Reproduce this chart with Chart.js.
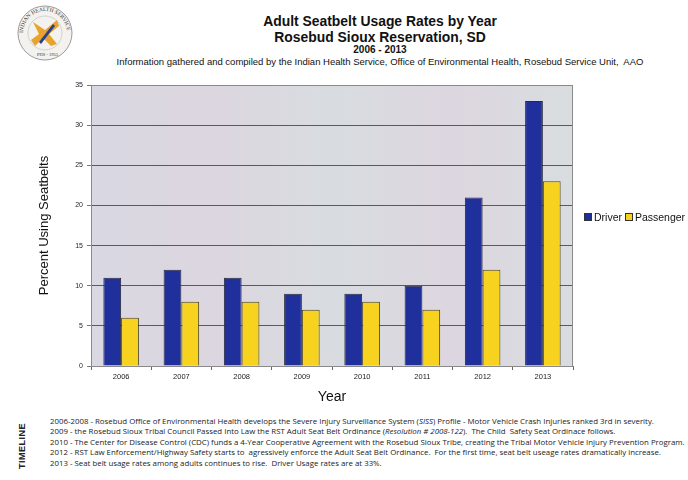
<!DOCTYPE html>
<html>
<head>
<script src="https://cdn.jsdelivr.net/npm/chart.js@4/dist/chart.umd.min.js"></script>
<style>
body { margin:0; background:#fff; font-family:"Liberation Sans", Arial, sans-serif; }
#page { position:relative; width:688px; height:480px; overflow:hidden; }
.t { position:absolute; left:60px; width:640px; text-align:center; color:#111; }
#chartBox { position:absolute; left:0; top:70px; width:688px; height:340px; }
#legend { position:absolute; left:584px; top:211px; font-size:10.5px; white-space:nowrap; color:#111; }
#legend span.sw { display:inline-block; width:6px; height:6px; border:1px solid #333; margin-right:2px; vertical-align:0px; }
#timeline { position:absolute; left:50px; top:416px; font-family:"Open Sans", "Liberation Sans", sans-serif; font-size:7.85px; line-height:10.4px; color:#222; white-space:nowrap; }
#tlLabel { position:absolute; left:-1px; top:441px; transform:rotate(-90deg); font-weight:bold; font-size:9px; color:#222; letter-spacing:0.5px; }
</style>
</head>
<body>
<div id="page">
<svg style="position:absolute;left:15px;top:4px" width="60" height="58" viewBox="0 0 60 58">
  <circle cx="30" cy="29" r="27" fill="#f4f2ee" stroke="#9a9a9a" stroke-width="1"/>
  <circle cx="30" cy="29" r="17" fill="none" stroke="#bbb" stroke-width="0.6"/>
  <path id="arcTop" d="M8,29 A22,22 0 0,1 52,29" fill="none"/>
  <text font-size="5.5" font-family="Liberation Serif" fill="#333"><textPath href="#arcTop">INDIAN HEALTH SERVICE</textPath></text>
  <text x="22" y="52" font-size="4.5" font-family="Liberation Serif" fill="#333">PHS - 1955</text>
  <path d="M18,18 L30,26 L42,16 L44,22 L34,30 L42,40 L36,42 L28,34 L20,42 L16,36 L24,30 Z" fill="#e8a32c"/>
  <path d="M24,38 L38,20 L40,22 L26,40 Z" fill="#2b3f8f"/>
</svg>
<div class="t" style="top:13px;font-size:13.9px;font-weight:bold;">Adult Seatbelt Usage Rates by Year</div>
<div class="t" style="top:29px;font-size:13.9px;font-weight:bold;">Rosebud Sioux Reservation, SD</div>
<div class="t" style="top:44px;font-size:10px;font-weight:bold;">2006 - 2013</div>
<div class="t" style="top:56px;font-size:9.5px;">Information gathered and compiled by the Indian Health Service, Office of Environmental Health, Rosebud Service Unit,&nbsp; AAO</div>
<div id="chartBox"><canvas id="myChart"></canvas></div>
<div id="legend"></div>
<div id="tlLabel">TIMELINE</div>
<div id="timeline">
2006-2008 - Rosebud Office of Environmental Health develops the Severe Injury Surveillance System (<i>SISS</i>) Profile - Motor Vehicle Crash Injuries ranked 3rd in severity.<br>
2009 - the Rosebud Sioux Tribal Council Passed Into Law the RST Adult Seat Belt Ordinance (<i>Resolution # 2008-122</i>).&nbsp; The Child&nbsp; Safety Seat Ordinace follows.<br>
2010 - The Center for Disease Control (CDC) funds a 4-Year Cooperative Agreement with the Rosebud Sioux Tribe, creating the Tribal Motor Vehicle Injury Prevention Program.<br>
2012 - RST Law Enforcement/Highway Safety starts to&nbsp; agressively enforce the Adult Seat Belt Ordinance.&nbsp; For the first time, seat belt useage rates dramatically increase.<br>
2013 - Seat belt usage rates among adults continues to rise.&nbsp; Driver Usage rates are at 33%.
</div>
</div>
<script>
var years = ['2006','2007','2008','2009','2010','2011','2012','2013'];
var driver = [11, 12, 11, 9, 9, 10, 21, 33];
var passenger = [6, 8, 8, 7, 8, 7, 12, 23];
var seriesNames = ['Driver', 'Passenger'];
var seriesColors = ['#1f2f9c', '#f7d21e'];

var plotBg = {
  id: 'plotBg',
  beforeDraw: function (chart) {
    var a = chart.chartArea, ctx = chart.ctx;
    var g = ctx.createLinearGradient(a.left, 0, a.right, 0);
    g.addColorStop(0, '#d9d8e2');
    g.addColorStop(0.25, '#dcd6e0');
    g.addColorStop(0.5, '#d8dcdf');
    g.addColorStop(0.75, '#ddd6e0');
    g.addColorStop(1, '#d8dddf');
    ctx.save();
    ctx.fillStyle = g;
    ctx.fillRect(a.left, a.top, a.right - a.left, a.bottom - a.top);
    ctx.restore();
  },
  afterDraw: function (chart) {
    var a = chart.chartArea, ctx = chart.ctx;
    ctx.save();
    ctx.strokeStyle = '#8a8a8a';
    ctx.lineWidth = 1;
    ctx.strokeRect(a.left + 0.5, a.top + 0.5, a.right - a.left - 1, a.bottom - a.top);
    ctx.restore();
  }
};

window.onload = function () {
  var ctx = document.getElementById('myChart');
  var chart = new Chart(ctx, {
    type: 'bar',
    data: {
      labels: years,
      datasets: [
        { label: seriesNames[0], data: driver, backgroundColor: seriesColors[0], borderColor: '#2a2a3a', borderWidth: 1 },
        { label: seriesNames[1], data: passenger, backgroundColor: seriesColors[1], borderColor: '#4a4020', borderWidth: 1 }
      ]
    },
    options: {
      responsive: true,
      maintainAspectRatio: false,
      animation: false,
      layout: { padding: { left: 37, right: 115, top: 15, bottom: 0 } },
      datasets: { bar: { categoryPercentage: 0.59, barPercentage: 1.0 } },
      plugins: { legend: { display: false }, tooltip: { enabled: false } },
      scales: {
        x: {
          offset: true,
          afterFit: function (s) { s.height = 44; },
          grid: { offset: true, drawOnChartArea: false, drawTicks: true, tickLength: 4, color: '#666' },
          border: { color: '#777' },
          ticks: { color: '#222', font: { family: 'Liberation Sans', size: 7.5 }, padding: 2 },
          title: { display: true, text: 'Year', color: '#111', font: { family: 'Liberation Sans', size: 14 }, padding: { top: 10 } }
        },
        y: {
          min: 0, max: 35,
          afterFit: function (s) { s.width = 54; },
          ticks: { stepSize: 5, color: '#222', font: { family: 'Liberation Sans', size: 7 }, padding: 4 },
          grid: { color: '#5a5a5a', tickLength: 4, tickColor: '#777' },
          border: { color: '#777' },
          title: { display: true, text: 'Percent Using Seatbelts', color: '#111', font: { family: 'Liberation Sans', size: 13 }, padding: 0 }
        }
      }
    },
    plugins: [plotBg]
  });
  var lg = document.getElementById('legend');
  chart.data.datasets.forEach(function (d, i) {
    lg.innerHTML += '<span class="sw" style="background:' + d.backgroundColor + '"></span>' + d.label + (i === 0 ? '&nbsp;' : '');
  });
};
</script>
</body>
</html>
